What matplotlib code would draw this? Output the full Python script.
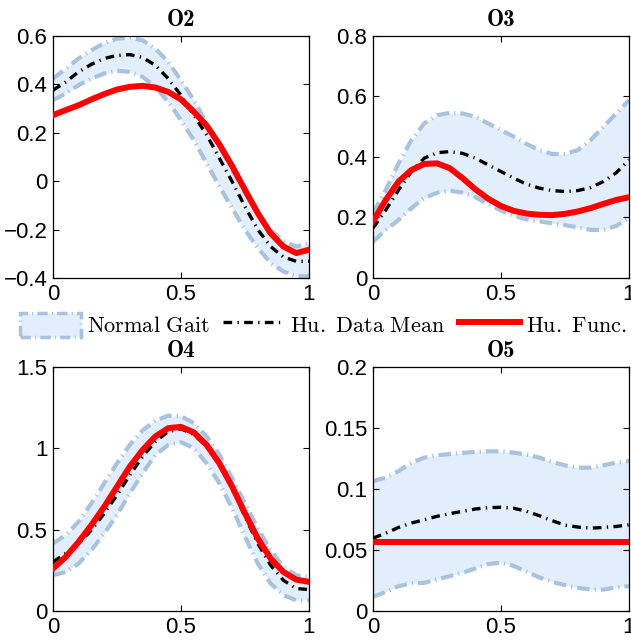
import matplotlib
matplotlib.use('Agg')
import matplotlib.pyplot as plt
from matplotlib.patches import Patch
from matplotlib.lines import Line2D

plt.rcParams['mathtext.fontset'] = 'cm'
plt.rcParams['font.family'] = ['Liberation Sans', 'DejaVu Sans']

# ---------------- data ----------------
phase = [0.0, 0.05, 0.1, 0.15, 0.2, 0.25, 0.3, 0.35, 0.4, 0.45, 0.5,
         0.55, 0.6, 0.65, 0.7, 0.75, 0.8, 0.85, 0.9, 0.95, 1.0]

titles = ['O2', 'O3', 'O4', 'O5']

o2_func = [0.273, 0.294, 0.314, 0.338, 0.360, 0.379, 0.390, 0.394, 0.387, 0.369, 0.338,
           0.287, 0.230, 0.152, 0.062, -0.036, -0.132, -0.215, -0.270, -0.297, -0.283]
o2_mean = [0.376, 0.410, 0.452, 0.483, 0.507, 0.520, 0.523, 0.511, 0.479, 0.424, 0.355,
           0.273, 0.192, 0.095, -0.002, -0.105, -0.200, -0.270, -0.313, -0.331, -0.331]
o2_upper = [0.424, 0.465, 0.507, 0.541, 0.571, 0.589, 0.593, 0.582, 0.548, 0.493, 0.417,
            0.335, 0.239, 0.143, 0.046, -0.050, -0.132, -0.201, -0.249, -0.270, -0.256]
o2_lower = [0.335, 0.362, 0.397, 0.424, 0.445, 0.456, 0.452, 0.431, 0.390, 0.328, 0.252,
            0.170, 0.074, -0.022, -0.112, -0.201, -0.276, -0.338, -0.373, -0.393, -0.393]

o3_func = [0.187, 0.258, 0.319, 0.357, 0.377, 0.379, 0.363, 0.330, 0.293, 0.262, 0.238,
           0.222, 0.213, 0.209, 0.208, 0.212, 0.220, 0.231, 0.245, 0.258, 0.267]
o3_mean = [0.165, 0.225, 0.291, 0.352, 0.396, 0.414, 0.418, 0.412, 0.396, 0.374, 0.352,
           0.330, 0.310, 0.297, 0.289, 0.286, 0.289, 0.299, 0.319, 0.348, 0.390]
o3_upper = [0.214, 0.291, 0.379, 0.456, 0.511, 0.538, 0.546, 0.544, 0.533, 0.511, 0.489,
            0.467, 0.443, 0.423, 0.410, 0.410, 0.423, 0.456, 0.500, 0.544, 0.588]
o3_lower = [0.120, 0.159, 0.192, 0.231, 0.264, 0.282, 0.289, 0.282, 0.267, 0.245, 0.223,
            0.205, 0.194, 0.187, 0.181, 0.175, 0.167, 0.159, 0.159, 0.172, 0.198]

o4_func = [0.261, 0.333, 0.425, 0.528, 0.641, 0.764, 0.888, 0.990, 1.073, 1.124, 1.132,
           1.098, 1.021, 0.908, 0.764, 0.600, 0.446, 0.323, 0.240, 0.193, 0.179]
o4_mean = [0.302, 0.354, 0.415, 0.497, 0.600, 0.713, 0.836, 0.949, 1.042, 1.103, 1.120,
           1.085, 1.011, 0.898, 0.754, 0.580, 0.415, 0.282, 0.189, 0.138, 0.132]
o4_upper = [0.415, 0.467, 0.549, 0.662, 0.785, 0.908, 1.021, 1.110, 1.171, 1.200, 1.198,
            1.155, 1.073, 0.960, 0.816, 0.662, 0.508, 0.374, 0.271, 0.220, 0.210]
o4_lower = [0.220, 0.240, 0.292, 0.374, 0.477, 0.590, 0.723, 0.847, 0.960, 1.021, 1.038,
            1.001, 0.908, 0.785, 0.631, 0.456, 0.292, 0.169, 0.097, 0.066, 0.066]

o5_func = [0.0565] * 21
o5_mean = [0.0597, 0.0638, 0.0685, 0.0721, 0.0748, 0.0776, 0.0798, 0.0817, 0.0836, 0.0847, 0.0850,
           0.0842, 0.0817, 0.0781, 0.0740, 0.0704, 0.0688, 0.0679, 0.0685, 0.0693, 0.0707]
o5_upper = [0.1065, 0.1092, 0.1147, 0.1216, 0.1257, 0.1276, 0.1287, 0.1296, 0.1304, 0.1309, 0.1309,
            0.1298, 0.1282, 0.1257, 0.1221, 0.1194, 0.1175, 0.1175, 0.1194, 0.1216, 0.1230]
o5_lower = [0.0116, 0.0157, 0.0204, 0.0226, 0.0231, 0.0259, 0.0286, 0.0314, 0.0349, 0.0385, 0.0396,
            0.0369, 0.0322, 0.0275, 0.0239, 0.0212, 0.0190, 0.0176, 0.0176, 0.0193, 0.0204]

xticks = [0, 0.5, 1]
xticklabels = ['0', '0.5', '1']
yticks = [[-0.4, -0.2, 0, 0.2, 0.4, 0.6],
          [0, 0.2, 0.4, 0.6, 0.8],
          [0, 0.5, 1, 1.5],
          [0, 0.05, 0.1, 0.15, 0.2]]
yticklabels = [['\u22120.4', '\u22120.2', '0', '0.2', '0.4', '0.6'],
               ['0', '0.2', '0.4', '0.6', '0.8'],
               ['0', '0.5', '1', '1.5'],
               ['0', '0.05', '0.1', '0.15', '0.2']]
ylims = [(-0.4, 0.6), (0, 0.8), (0, 1.5), (0, 0.2)]

legend_labels = [r'$\mathrm{Normal\ Gait}$', r'$\mathrm{Hu.\ Data\ Mean}$', r'$\mathrm{Hu.\ Func.}$']

series = [(o2_func, o2_mean, o2_upper, o2_lower),
          (o3_func, o3_mean, o3_upper, o3_lower),
          (o4_func, o4_mean, o4_upper, o4_lower),
          (o5_func, o5_mean, o5_upper, o5_lower)]

# ---------------- style ----------------
FILL = '#e2eefb'
EDGE = '#a9c3df'
BAND_LS = (0, (3.0, 1.2, 0.3, 1.2))
MEAN_LS = (0, (2.6, 1.6, 0.4, 1.6))

W, H = 631, 642
fig = plt.figure(figsize=(W / 100, H / 100), dpi=100, facecolor='white')

rects_px = [(53, 36, 256, 242), (373, 36, 256, 242),
            (53, 367, 256, 244), (373, 367, 256, 244)]

for i, (l, t, w, h) in enumerate(rects_px):
    ax = fig.add_axes([l / W, 1 - (t + h) / H, w / W, h / H])
    func, mean, up, lo = series[i]
    ax.fill_between(phase, lo, up, color=FILL, lw=0, zorder=1)
    ax.plot(phase, up, color=EDGE, lw=3.0, ls=BAND_LS, zorder=2,
            dash_joinstyle='round', dash_capstyle='butt')
    ax.plot(phase, lo, color=EDGE, lw=3.0, ls=BAND_LS, zorder=2,
            dash_joinstyle='round', dash_capstyle='butt')
    ax.plot(phase, mean, color='black', lw=2.4, ls=MEAN_LS, zorder=3,
            dash_joinstyle='round')
    ax.plot(phase, func, color='red', lw=4.3, zorder=4, solid_joinstyle='round')
    ax.set_xlim(0, 1)
    ax.set_ylim(*ylims[i])
    ax.set_xticks(xticks, xticklabels)
    ax.set_yticks(yticks[i], yticklabels[i])
    ax.tick_params(direction='in', top=True, right=True, length=4, width=0.8,
                   labelsize=16, colors='black')
    ax.tick_params(axis='x', pad=4)
    ax.tick_params(axis='y', pad=4)
    for sp in ax.spines.values():
        sp.set_color('black')
        sp.set_linewidth(0.9)
    ax.set_title(titles[i], fontsize=16.5, pad=7, family='cmb10')

handles = [Patch(facecolor=FILL, edgecolor=EDGE, linestyle=BAND_LS, linewidth=2.5),
           Line2D([], [], color='black', lw=2.4, ls=MEAN_LS),
           Line2D([], [], color='red', lw=4.3)]
fig.legend(handles, legend_labels, ncol=3, loc='center left',
           bbox_to_anchor=(20 / W, 1 - 325 / H), frameon=False,
           fontsize=16, handlelength=2.75, handleheight=1.35,
           handletextpad=0.27, columnspacing=0.6, borderpad=0, borderaxespad=0)

fig.savefig('out.png', dpi=100, facecolor='white')
